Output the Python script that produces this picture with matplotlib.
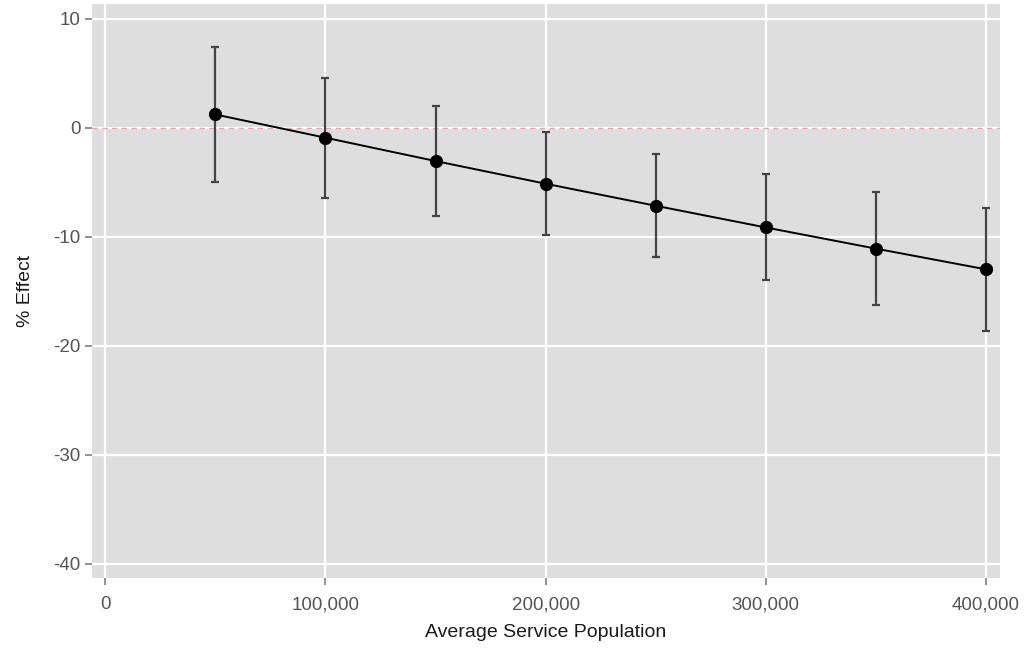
import matplotlib
matplotlib.use("Agg")
import matplotlib.pyplot as plt
from matplotlib.ticker import FuncFormatter

population = [50000, 100000, 150000, 200000, 250000, 300000, 350000, 400000]
effect = [1.2, -0.93, -3.07, -5.15, -7.17, -9.16, -11.1, -13.0]
upper = [7.39, 4.54, 1.94, -0.44, -2.43, -4.24, -5.9, -7.33]
lower = [-5.0, -6.47, -8.09, -9.89, -11.85, -14.0, -16.3, -18.64]
x_ticks = [0, 100000, 200000, 300000, 400000]
y_ticks = [10, 0, -10, -20, -30, -40]

plt.rcParams['font.family'] = ['Liberation Sans', 'DejaVu Sans']
plt.rcParams['axes.unicode_minus'] = False

fig = plt.figure(figsize=(10.28, 6.49), dpi=100)
ax = fig.add_axes([91.7/1028, 1-578/649, (1000-91.7)/1028, (578-4)/649])
ax.set_facecolor('#DEDEDE')
for s in ax.spines.values():
    s.set_visible(False)

ax.set_xlim(-6180, 406360)
ax.set_ylim(-41.3, 11.33)
ax.set_xticks(x_ticks)
ax.set_yticks(y_ticks)
ax.xaxis.set_major_formatter(FuncFormatter(lambda v, p: f"{int(v):,}"))
ax.yaxis.set_major_formatter(FuncFormatter(lambda v, p: f"{int(v)}"))
ax.grid(True, color='white', linewidth=1.6)
ax.set_axisbelow(True)
ax.tick_params(axis='both', colors='#7F7F7F', labelcolor='#555555', labelsize=13.5, length=5, width=1.2, direction='out')
ax.tick_params(axis='x', pad=8)
ax.tick_params(axis='y', pad=3)

ax.axhline(0, color='#E8A6AE', linewidth=1.0, linestyle=(0, (4, 3)), zorder=1)

yerr = [[e - l for e, l in zip(effect, lower)], [u - e for u, e in zip(upper, effect)]]
ax.errorbar(population, effect, yerr=yerr, fmt='none', ecolor='#444444', elinewidth=1.6, capsize=2.8, capthick=1.6, zorder=2)
ax.plot(population, effect, color='black', linewidth=1.4, marker='o', markersize=8.5, zorder=3)

ax.set_xlabel('Average Service Population', fontsize=14, color='#1A1A1A', labelpad=8)
ax.set_ylabel('% Effect', fontsize=14, color='#1A1A1A', labelpad=14)

fig.savefig('out.png', dpi=100)
